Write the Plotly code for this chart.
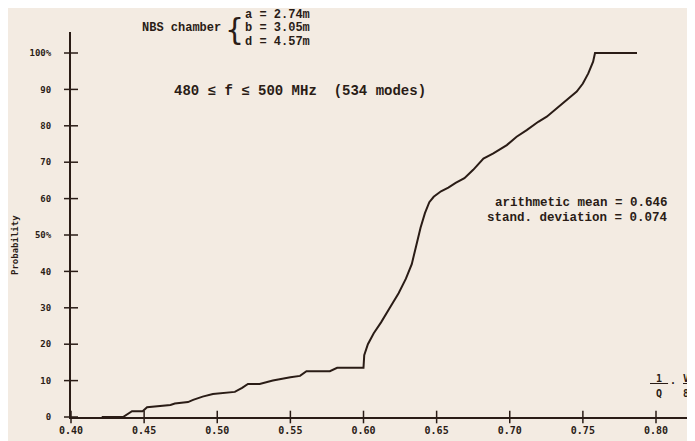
import plotly.graph_objects as go

# ---- data ----
ratio = [0.421, 0.4356, 0.4417, 0.449, 0.452, 0.461, 0.468, 0.471, 0.480, 0.4835,
         0.490, 0.497, 0.512, 0.517, 0.521, 0.529, 0.538, 0.550, 0.5566, 0.561,
         0.577, 0.582, 0.600, 0.6005, 0.603, 0.607, 0.612, 0.618, 0.624, 0.629,
         0.633, 0.636, 0.639, 0.642, 0.645, 0.648, 0.653, 0.658, 0.663, 0.669,
         0.675, 0.682, 0.6888, 0.698, 0.7047, 0.7116, 0.7195, 0.7253, 0.732, 0.739,
         0.7458, 0.750, 0.7537, 0.757, 0.7583, 0.787]
probability = [0, 0, 1.6, 1.6, 2.7, 3.0, 3.3, 3.7, 4.1, 4.7,
               5.6, 6.3, 6.9, 8.0, 9.1, 9.1, 10.0, 10.9, 11.3, 12.6,
               12.6, 13.5, 13.5, 17.0, 20, 23, 26, 30, 34, 38,
               42, 47, 52, 56, 59, 60.5, 62, 63, 64.3, 65.6,
               67.9, 71.0, 72.4, 74.7, 77.0, 78.8, 81.1, 82.5, 84.8, 87.1,
               89.4, 91.6, 94.4, 97.6, 100, 100]

x_ticks = [0.40, 0.45, 0.50, 0.55, 0.60, 0.65, 0.70, 0.75, 0.80]
x_tick_labels = ["0.40", "0.45", "0.50", "0.55", "0.60", "0.65", "0.70", "0.75", "0.80"]
y_ticks = [0, 10, 20, 30, 40, 50, 60, 70, 80, 90, 100]
y_tick_labels = ["0", "10", "20", "30", "40", "50%", "60", "70", "80", "90", "100%"]

INK = "#2a1c16"
BG = "#f3ebe2"
MONO = "Liberation Mono"
DJ = "DejaVu Sans Mono"

# page offset from the default <body> margin
OFF = 8
PLOT_LEFT, PLOT_RIGHT, PLOT_TOP, PLOT_BOTTOM = 71, 695, 32, 417   # page pixels
L = PLOT_LEFT - OFF
T = PLOT_TOP - OFF
W = PLOT_RIGHT - PLOT_LEFT
H = PLOT_BOTTOM - PLOT_TOP
R = 695 - L - W
B = 441 - T - H

X0 = 0.40
PX_PER_X = 1462.5      # pixels per unit ratio
PX_PER_Y = 3.64        # pixels per percent
x_max = X0 + W / PX_PER_X
y_max = H / PX_PER_Y

fig = go.Figure()

fig.add_trace(go.Scatter(x=ratio, y=probability, mode="lines",
                         line=dict(color=INK, width=2), hoverinfo="skip"))

# crossing tick marks
fig.add_trace(go.Scatter(x=[x_ticks[0]] * len(y_ticks), y=y_ticks, mode="markers",
                         marker=dict(symbol="line-ew", size=10,
                                     line=dict(color=INK, width=1.5)),
                         cliponaxis=False, hoverinfo="skip"))
fig.add_trace(go.Scatter(x=x_ticks, y=[0] * len(x_ticks), mode="markers",
                         marker=dict(symbol="line-ns", size=9,
                                     line=dict(color=INK, width=1.5)),
                         cliponaxis=False, hoverinfo="skip"))

def pxx(p):
    return (p - PLOT_LEFT) / W

def pxy(p):
    return (PLOT_BOTTOM - p) / H

ann = []
def text(t, x, y, size, xanchor="left", bold=True, font=MONO, angle=0):
    ann.append(dict(text=("<b>%s</b>" % t) if bold else t, x=pxx(x), y=pxy(y),
                    xref="paper", yref="paper", showarrow=False, xanchor=xanchor,
                    yanchor="middle", textangle=angle,
                    font=dict(family=font, size=size, color=INK)))

text("NBS chamber", 140, 28, 12)
text("{", 234, 29, 30, xanchor="center", bold=False, font="DejaVu Sans")
text("a = 2.74m", 243, 15, 12)
text("b = 3.05m", 243, 28, 12)
text("d = 4.57m", 243, 42, 12)
text("480 ≤ f ≤ 500 MHz  (534 modes)", 172, 91, 14)
text("arithmetic mean = 0.646", 670, 203, 12.5, xanchor="right")
text("stand. deviation = 0.074", 670, 218, 12.5, xanchor="right")
text("<u> 1 </u>", 659, 378, 10, xanchor="center", font=DJ)
text("Q", 659, 393, 10, xanchor="center", font=DJ)
text("·", 673, 383, 10, xanchor="center", font=DJ)
text("<u>V</u>", 686, 378, 10, xanchor="center", font=DJ)
text("8π", 681, 393, 10, xanchor="left", font=DJ)
text("Probability", 15, 245, 9, xanchor="center", font=DJ, angle=-90)

fig.update_layout(
    width=695, height=441,
    margin=dict(l=L, r=R, t=T, b=B),
    paper_bgcolor=BG, plot_bgcolor=BG,
    showlegend=False,
    annotations=ann,
    xaxis=dict(range=[X0, x_max], tickvals=x_ticks, ticktext=x_tick_labels,
               showgrid=False, zeroline=False, showline=True, linecolor=INK, linewidth=2,
               ticks="", ticklabelstandoff=3,
               tickfont=dict(family=DJ, size=10, color=INK, weight="bold")),
    yaxis=dict(range=[0, y_max], tickvals=y_ticks, ticktext=y_tick_labels,
               showgrid=False, zeroline=False, showline=True, linecolor=INK, linewidth=2,
               ticks="", ticklabelstandoff=16,
               tickfont=dict(family=DJ, size=9, color=INK, weight="bold")),
)

fig.write_html("out.html")
